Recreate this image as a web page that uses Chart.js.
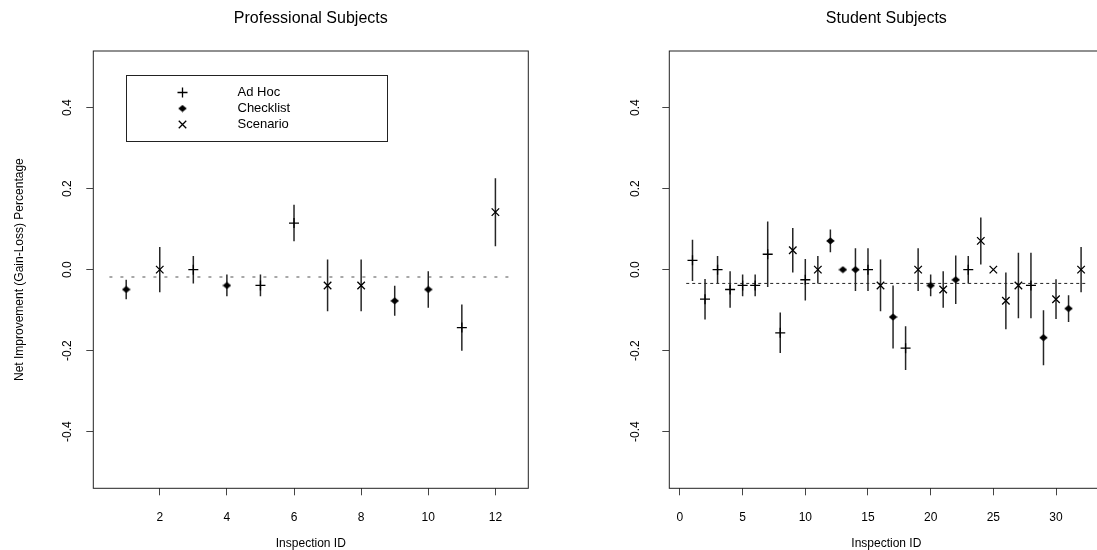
<!DOCTYPE html>
<html>
<head>
<meta charset="utf-8">
<script src="https://cdn.jsdelivr.net/npm/chart.js@4.4.0/dist/chart.umd.min.js"></script>
<style>
  html, body { margin: 0; padding: 0; background: #fff; overflow: hidden; }
  #wrap { position: relative; width: 1097px; height: 550px; overflow: hidden; }
  canvas { position: absolute; top: 0; }
  #proChart { left: 0; }
  #stuChart { left: 548px; }
</style>
</head>
<body>
<div id="wrap">
  <canvas id="proChart" width="548" height="550"></canvas>
  <canvas id="stuChart" width="562" height="550"></canvas>
</div>
<script>
// Professional subjects (inspections 1-12)
const proIds = [1, 2, 3, 4, 5, 6, 7, 8, 9, 10, 11, 12];
const proMethods = ["Checklist", "Scenario", "Ad Hoc", "Checklist", "Ad Hoc", "Ad Hoc",
  "Scenario", "Scenario", "Checklist", "Checklist", "Ad Hoc", "Scenario"];
const proValues = [-0.049, 0.0, 0.0, -0.039, -0.039, 0.115, -0.039, -0.039, -0.077, -0.049, -0.143, 0.142];
const proErrors = [0.024, 0.056, 0.034, 0.027, 0.027, 0.045, 0.064, 0.064, 0.037, 0.045, 0.057, 0.084];
const proMean = -0.018;
const proTicksX = [2, 4, 6, 8, 10, 12];

// Student subjects (inspections 1-32)
const stuIds = [1, 2, 3, 4, 5, 6, 7, 8, 9, 10, 11, 12, 13, 14, 15, 16,
  17, 18, 19, 20, 21, 22, 23, 24, 25, 26, 27, 28, 29, 30, 31, 32];
const stuMethods = ["Ad Hoc", "Ad Hoc", "Ad Hoc", "Ad Hoc", "Ad Hoc", "Ad Hoc", "Ad Hoc", "Ad Hoc",
  "Scenario", "Ad Hoc", "Scenario", "Checklist", "Checklist", "Checklist", "Ad Hoc", "Scenario",
  "Checklist", "Ad Hoc", "Scenario", "Checklist", "Scenario", "Checklist", "Ad Hoc", "Scenario",
  "Scenario", "Scenario", "Scenario", "Ad Hoc", "Checklist", "Scenario", "Checklist", "Scenario"];
const stuValues = [0.023, -0.073, 0.0, -0.049, -0.039, -0.039, 0.038, -0.156, 0.048, -0.025, 0.0, 0.071,
  0.0, 0.0, 0.0, -0.039, -0.117, -0.194, 0.0, -0.039, -0.049, -0.025, 0.0, 0.071,
  0.0, -0.077, -0.039, -0.039, -0.168, -0.073, -0.096, 0.0];
const stuErrors = [0.051, 0.05, 0.034, 0.045, 0.027, 0.027, 0.081, 0.05, 0.055, 0.051, 0.034, 0.028,
  0.0, 0.053, 0.053, 0.064, 0.078, 0.054, 0.053, 0.027, 0.045, 0.06, 0.034, 0.058,
  0.0, 0.07, 0.081, 0.081, 0.068, 0.049, 0.033, 0.056];
const stuMean = -0.034;
const stuTicksX = [0, 5, 10, 15, 20, 25, 30];

const ticksY = [-0.4, -0.2, 0.0, 0.2, 0.4];
const methods = ["Ad Hoc", "Checklist", "Scenario"];

const FONT = '"Liberation Sans", Arial, Helvetica, sans-serif';
Chart.defaults.font.family = FONT;
Chart.defaults.color = "#000";

// small flat filled diamond, like R's pch 18
const diamond = document.createElement("canvas");
diamond.width = 9;
diamond.height = 8;
(() => {
  const c = diamond.getContext("2d");
  c.fillStyle = "#000";
  c.beginPath();
  c.moveTo(4.5, 0.5);
  c.lineTo(8.8, 4);
  c.lineTo(4.5, 7.5);
  c.lineTo(0.2, 4);
  c.closePath();
  c.fill();
})();

// marker look for each method
const markerStyle = {
  "Ad Hoc": { pointStyle: "cross", radius: 5 },
  "Checklist": { pointStyle: diamond, radius: 4 },
  "Scenario": { pointStyle: "crossRot", radius: 5.3 },
};

// full box around the plot area
const framePlugin = {
  id: "frame",
  afterDraw(chart) {
    const { ctx, chartArea: a } = chart;
    ctx.save();
    ctx.strokeStyle = "#222";
    ctx.lineWidth = 1;
    ctx.strokeRect(a.left, a.top, a.right - a.left, a.bottom - a.top);
    ctx.restore();
  },
};

// R style boxed legend placed inside the plot, anchored at data coords
const boxLegendPlugin = {
  id: "boxLegend",
  afterDatasetsDraw(chart, args, opts) {
    if (!opts || !opts.show) return;
    const { ctx, scales } = chart;
    const left = Math.round(scales.x.getPixelForValue(opts.x)) + 0.5;
    const top = Math.round(scales.y.getPixelForValue(opts.y)) + 0.5;
    const items = chart.data.datasets.filter((d) => d.inLegend);
    ctx.save();
    ctx.strokeStyle = "#222";
    ctx.lineWidth = 1;
    ctx.strokeRect(left, top, opts.width, opts.height);
    ctx.font = `${opts.fontSize}px ${FONT}`;
    ctx.textBaseline = "middle";
    ctx.textAlign = "left";
    items.forEach((d, i) => {
      const cy = top + opts.rowStart + i * opts.rowGap;
      ctx.strokeStyle = "#000";
      ctx.fillStyle = "#000";
      ctx.lineWidth = 1.3;
      Chart.helpers.drawPoint(ctx, {
        pointStyle: d.pointStyle, radius: d.pointRadius, rotation: 0, borderWidth: 1.3,
      }, left + opts.symbolX, cy);
      ctx.fillStyle = "#000";
      ctx.fillText(d.label, left + opts.textX, cy);
    });
    ctx.restore();
  },
};

const buildDatasets = (ids, meths, values, errors, mean, meanFrom, meanTo, meanStyle) => {
  const sets = methods.map((m) => ({
    type: "scatter",
    label: m,
    inLegend: true,
    data: ids
      .map((id, i) => ({ x: id, y: values[i], m: meths[i] }))
      .filter((p) => p.m === m)
      .map((p) => ({ x: p.x, y: p.y })),
    pointStyle: markerStyle[m].pointStyle,
    pointRadius: markerStyle[m].radius,
    borderWidth: 1.3,
    borderColor: "#000",
    backgroundColor: "#000",
    order: 0,
  }));

  // vertical error bars, one segment per inspection separated by gaps
  const bars = [];
  ids.forEach((id, i) => {
    bars.push({ x: id, y: values[i] - errors[i] });
    bars.push({ x: id, y: values[i] + errors[i] });
    bars.push({ x: id, y: null });
  });
  sets.push({
    type: "line",
    label: "error",
    data: bars,
    showLine: true,
    spanGaps: false,
    pointRadius: 0,
    borderWidth: 1.5,
    borderColor: "#262626",
    order: 2,
  });

  sets.push({
    type: "line",
    label: "mean",
    data: [{ x: meanFrom, y: mean }, { x: meanTo, y: mean }],
    showLine: true,
    pointRadius: 0,
    borderWidth: meanStyle.width,
    borderColor: meanStyle.color,
    borderDash: meanStyle.dash,
    order: 3,
  });
  return sets;
};

const makeOptions = (cfg) => ({
  responsive: false,
  animation: false,
  events: [],
  layout: { padding: { left: 0, right: cfg.padRight, top: 0, bottom: 0 } },
  plugins: {
    legend: { display: false },
    tooltip: { enabled: false },
    title: {
      display: true,
      text: cfg.title,
      fullSize: false,
      color: "#000",
      font: { size: 16, weight: "normal" },
      padding: { top: 8.5, bottom: 23.3 },
    },
    boxLegend: cfg.legend,
  },
  scales: {
    x: {
      type: "linear",
      position: "bottom",
      min: cfg.xMin,
      max: cfg.xMax,
      afterBuildTicks: (s) => { s.ticks = cfg.xTicks.map((v) => ({ value: v })); },
      afterFit: (s) => { s.height = 61.7; },
      grid: { drawOnChartArea: false, tickLength: 7, color: "#444" },
      border: { display: false },
      ticks: { padding: 15, font: { size: 12 }, color: "#000", maxRotation: 0, autoSkip: false,
        callback: (v) => String(v) },
      title: { display: true, text: "Inspection ID", font: { size: 12 }, color: "#000",
        padding: { top: 0, bottom: -1 } },
    },
    y: {
      type: "linear",
      position: "left",
      min: -0.54,
      max: 0.54,
      afterBuildTicks: (s) => { s.ticks = ticksY.map((v) => ({ value: v })); },
      afterFit: (s) => { s.width = cfg.yWidth; },
      grid: { drawOnChartArea: false, tickLength: 7, color: "#444" },
      border: { display: false },
      ticks: { padding: cfg.yPad, font: { size: 12 }, color: "#000", minRotation: 90, maxRotation: 90,
        crossAlign: "center", autoSkip: false, callback: (v) => Number(v).toFixed(1) },
      title: {
        display: cfg.yTitle !== "",
        text: cfg.yTitle,
        font: { size: 12 },
        color: "#000",
        padding: { top: 12, bottom: 0 },
      },
    },
  },
});

new Chart(document.getElementById("proChart"), {
  type: "scatter",
  data: { datasets: buildDatasets(proIds, proMethods, proValues, proErrors, proMean, 0.5, 12.5,
    { color: "#8c8c8c", dash: [3, 8], width: 1.5 }) },
  options: makeOptions({
    title: "Professional Subjects",
    xMin: 0.02, xMax: 12.98, xTicks: proTicksX,
    padRight: 19.7, yWidth: 93.3, yPad: 8,
    yTitle: "Net Improvement (Gain-Loss) Percentage",
    legend: { show: true, x: 1, y: 0.48, width: 261, height: 66, rowStart: 17, rowGap: 16,
      symbolX: 56, textX: 111, fontSize: 13 },
  }),
  plugins: [framePlugin, boxLegendPlugin],
});

new Chart(document.getElementById("stuChart"), {
  type: "scatter",
  data: { datasets: buildDatasets(stuIds, stuMethods, stuValues, stuErrors, stuMean, 0.5, 32.5,
    { color: "#222", dash: [3, 3], width: 1 }) },
  options: makeOptions({
    title: "Student Subjects",
    xMin: -0.85, xMax: 33.78, xTicks: stuTicksX,
    padRight: 5.8, yWidth: 121.3, yPad: 16,
    yTitle: "",
    legend: { show: false },
  }),
  plugins: [framePlugin, boxLegendPlugin],
});
</script>
</body>
</html>
